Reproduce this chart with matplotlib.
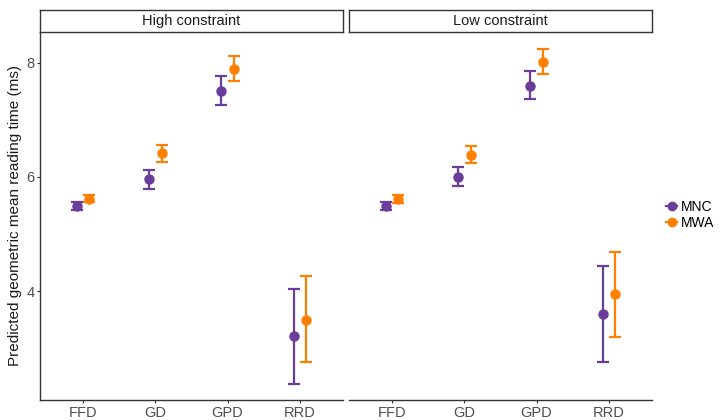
import matplotlib.pyplot as plt
from matplotlib.lines import Line2D
import numpy as np

plt.rcParams['font.family'] = ['Liberation Sans', 'DejaVu Sans']

measures = ['FFD', 'GD', 'GPD', 'RRD']
panels = ['High constraint', 'Low constraint']
groups = ['MNC', 'MWA']
colors = {'MNC': '#6a3d9a', 'MWA': '#ff7f00'}

# estimates and interval bounds, per panel and group
est = {
    ('High constraint', 'MNC'): [5.49, 5.96, 7.51, 3.21],
    ('High constraint', 'MWA'): [5.62, 6.42, 7.90, 3.50],
    ('Low constraint', 'MNC'): [5.49, 6.00, 7.60, 3.59],
    ('Low constraint', 'MWA'): [5.61, 6.39, 8.02, 3.94],
}
lower = {
    ('High constraint', 'MNC'): [5.42, 5.79, 7.26, 2.37],
    ('High constraint', 'MWA'): [5.56, 6.26, 7.68, 2.75],
    ('Low constraint', 'MNC'): [5.42, 5.84, 7.37, 2.75],
    ('Low constraint', 'MWA'): [5.55, 6.24, 7.80, 3.19],
}
upper = {
    ('High constraint', 'MNC'): [5.56, 6.13, 7.77, 4.04],
    ('High constraint', 'MWA'): [5.69, 6.56, 8.12, 4.26],
    ('Low constraint', 'MNC'): [5.56, 6.17, 7.85, 4.43],
    ('Low constraint', 'MWA'): [5.69, 6.54, 8.25, 4.69],
}

fig = plt.figure(figsize=(7.2, 4.2), dpi=100)
x = np.arange(1, len(measures) + 1)
offsets = {'MNC': -0.085, 'MWA': 0.085}
axline = '#333333'
ticklab = '#4d4d4d'

lefts = [40 / 720, 349 / 720]
w = 303 / 720
bottom = 1 - 400 / 420
h = (400 - 32) / 420
strip_h = 22 / 420

for i, panel in enumerate(panels):
    ax = fig.add_axes([lefts[i], bottom, w, h])
    for g in groups:
        y = np.array(est[(panel, g)])
        lo = np.array(lower[(panel, g)])
        hi = np.array(upper[(panel, g)])
        ax.errorbar(x + offsets[g], y, yerr=[y - lo, hi - y], fmt='o',
                    color=colors[g], ms=6.5, elinewidth=1.6, capsize=4,
                    capthick=1.6)
    ax.set_xlim(0.4, 4.6)
    ax.set_ylim(2.09, 8.54)
    ax.set_xticks(x)
    ax.set_xticklabels(measures)
    ax.set_yticks([4, 6, 8])
    for s in ['top', 'right']:
        ax.spines[s].set_visible(False)
    ax.spines['bottom'].set_color(axline)
    ax.spines['left'].set_color(axline)
    ax.spines['bottom'].set_linewidth(1.0)
    ax.spines['left'].set_linewidth(1.0)
    ax.tick_params(colors=axline, labelcolor=ticklab, labelsize=10.5, length=2.5,
                   width=0.8, pad=1.5)
    if i == 0:
        ax.set_ylabel('Predicted geometric mean reading time (ms)', fontsize=11,
                      labelpad=3, color='#1a1a1a')
    else:
        ax.spines['left'].set_visible(False)
        ax.tick_params(axis='y', left=False, labelleft=False)

    # facet strip
    sax = fig.add_axes([lefts[i], bottom + h, w, strip_h])
    sax.set_xticks([])
    sax.set_yticks([])
    for s in sax.spines.values():
        s.set_color(axline)
        s.set_linewidth(1.0)
    sax.text(0.5, 0.48, panel, ha='center', va='center', fontsize=10.5, color='#1a1a1a',
             transform=sax.transAxes)

handles = [Line2D([], [], color=colors[g], marker='o', ms=6, lw=1.6) for g in groups]
fig.legend(handles=handles, labels=groups, loc='center left',
           bbox_to_anchor=(666 / 720, 1 - 215 / 420), frameon=False, fontsize=10,
           handlelength=0.8, handletextpad=0.3, labelspacing=0.15,
           borderpad=0, borderaxespad=0)

fig.savefig('out.png', dpi=100)
